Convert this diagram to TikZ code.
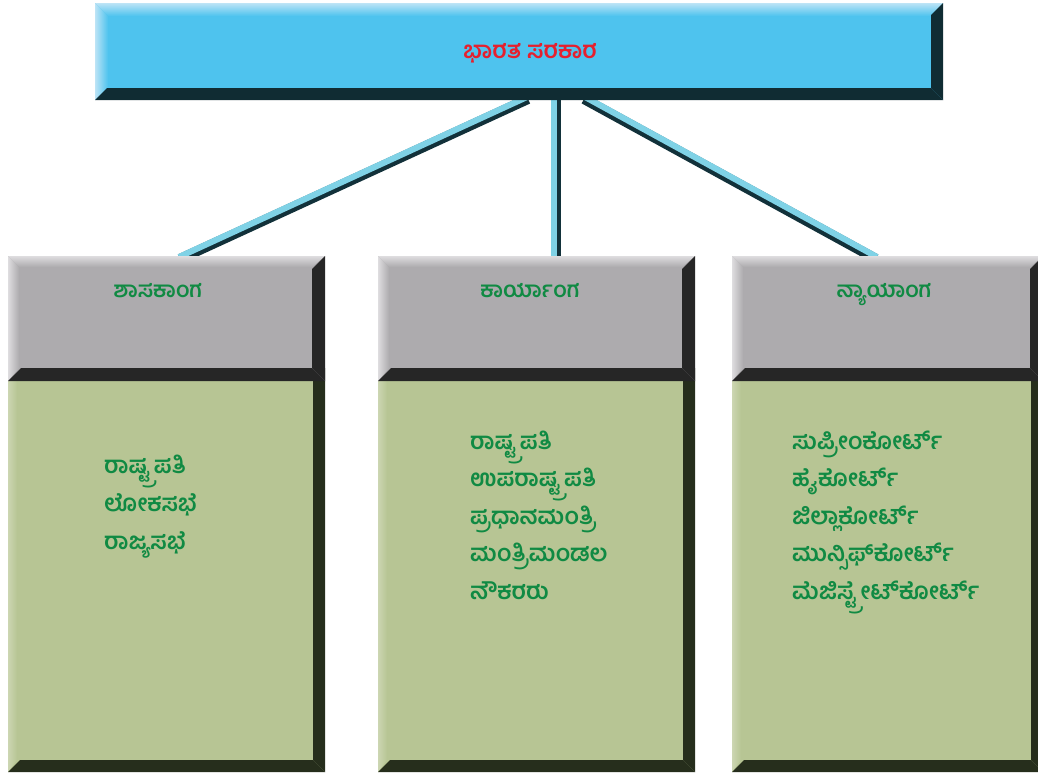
\documentclass[tikz,border=0pt]{standalone}
\usepackage{fontspec}
\newfontfamily\kn[Script=Kannada]{Hind Mysuru}
\definecolor{skyface}{HTML}{4EC3EE}
\definecolor{skylight}{HTML}{BDE4F6}
\definecolor{skydark}{HTML}{102C33}
\definecolor{grayface}{HTML}{ADABAE}
\definecolor{graylight}{HTML}{DEDDDF}
\definecolor{graydark}{HTML}{262626}
\definecolor{greenface}{HTML}{B7C594}
\definecolor{greenlight}{HTML}{CCD6B2}
\definecolor{greendark}{HTML}{262E1C}
\definecolor{titlered}{HTML}{E5202E}
\definecolor{textgreen}{HTML}{108A43}
\definecolor{tubelight}{HTML}{7FD2E6}
\definecolor{tubedark}{HTML}{12313A}
\newcommand\bevbox[9]{%
  \fill[#5] (#1,#2) rectangle (#3,#4);
  \shade[top color=#6, bottom color=#5] (#1,#2) -- (#3,#2) -- ({#3-#9},{#2+#8}) -- ({#1+#8},{#2+#8}) -- cycle;
  \shade[left color=#6, right color=#5] (#1,#2) -- ({#1+#8},{#2+#8}) -- ({#1+#8},{#4-#9}) -- (#1,#4) -- cycle;
  \fill[#7] (#3,#2) -- (#3,#4) -- ({#3-#9},{#4-#9}) -- ({#3-#9},{#2+#9}) -- cycle;
  \fill[#7] (#1,#4) -- (#3,#4) -- ({#3-#9},{#4-#9}) -- ({#1+#9},{#4-#9}) -- cycle;
}
\tikzset{
  titletext/.style={font=\kn\bfseries\fontsize{23.5}{28}\selectfont, text=titlered, inner sep=0pt, anchor=base},
  headtext/.style={font=\kn\bfseries\fontsize{22}{26}\selectfont, text=textgreen, inner sep=0pt, anchor=base},
  itemtext/.style={font=\kn\bfseries\fontsize{23.5}{28}\selectfont, text=textgreen, inner sep=0pt, anchor=base west},
  tubeback/.style={draw=tubedark, line width=10pt},
  tubefront/.style={draw=tubelight, line width=6pt},
}
\begin{document}
\begin{tikzpicture}[x=1pt,y=-1pt]
\useasboundingbox (0,0) rectangle (1038,777);
\clip (0,0) rectangle (1038,777);
\fill[white] (0,0) rectangle (1038,777);
% connector end points
\coordinate (gL) at (528,99);
\coordinate (gM) at (556,99);
\coordinate (gR) at (584,99);
\coordinate (cL) at (180,259);
\coordinate (cM) at (556,259);
\coordinate (cR) at (876,259);
% connectors (tubes)
\draw[tubeback] (gL) -- (cL);
\draw[tubefront, transform canvas={xshift=-1pt, yshift=2pt}] (gL) -- (cL);
\draw[tubeback] (gM) -- (cM);
\draw[tubefront, transform canvas={xshift=-2.5pt}] (gM) -- (cM);
\draw[tubeback] (gR) -- (cR);
\draw[tubefront, transform canvas={xshift=1pt, yshift=2pt}] (gR) -- (cR);
% top box
\bevbox{95}{3}{943}{100}{skyface}{skylight}{skydark}{13}{12}
% columns: bodies first, headers on top
\bevbox{8}{368}{325}{772}{greenface}{greenlight}{greendark}{9}{12}
\bevbox{378}{368}{695}{772}{greenface}{greenlight}{greendark}{9}{12}
\bevbox{732}{368}{1043}{772}{greenface}{greenlight}{greendark}{9}{12}
\bevbox{8}{256}{325}{381}{grayface}{graylight}{graydark}{11}{13}
\bevbox{378}{256}{695}{381}{grayface}{graylight}{graydark}{11}{13}
\bevbox{732}{256}{1043}{381}{grayface}{graylight}{graydark}{11}{13}
% titles
\node[titletext] (gov) at (530,58) {ಭಾರತ ಸರಕಾರ};
\node[headtext] (h1) at (158,297) {ಶಾಸಕಾಂಗ};
\node[headtext] (h2) at (530,297) {ಕಾರ್ಯಾಂಗ};
\node[headtext] (h3) at (884,297) {ನ್ಯಾಯಾಂಗ};
% left column
\node[itemtext] (a1) at (104,473) {ರಾಷ್ಟ್ರಪತಿ};
\node[itemtext] (a2) at (104,511) {ಲೋಕಸಭೆ};
\node[itemtext] (a3) at (104,549) {ರಾಜ್ಯಸಭೆ};
% middle column
\node[itemtext] (b1) at (470,449) {ರಾಷ್ಟ್ರಪತಿ};
\node[itemtext] (b2) at (470,486.5) {ಉಪರಾಷ್ಟ್ರಪತಿ};
\node[itemtext] (b3) at (470,524) {ಪ್ರಧಾನಮಂತ್ರಿ};
\node[itemtext] (b4) at (470,561.5) {ಮಂತ್ರಿಮಂಡಲ};
\node[itemtext] (b5) at (470,599) {ನೌಕರರು};
% right column
\node[itemtext] (r1) at (792,449) {ಸುಪ್ರೀಂಕೋರ್ಟ್};
\node[itemtext] (r2) at (792,486.5) {ಹೈಕೋರ್ಟ್};
\node[itemtext] (r3) at (792,524) {ಜಿಲ್ಲಾಕೋರ್ಟ್};
\node[itemtext] (r4) at (792,561.5) {ಮುನ್ಸಿಫ್‌ಕೋರ್ಟ್};
\node[itemtext] (r5) at (792,599) {ಮೆಜಿಸ್ಟ್ರೇಟ್‌ಕೋರ್ಟ್};
\end{tikzpicture}
\end{document}
